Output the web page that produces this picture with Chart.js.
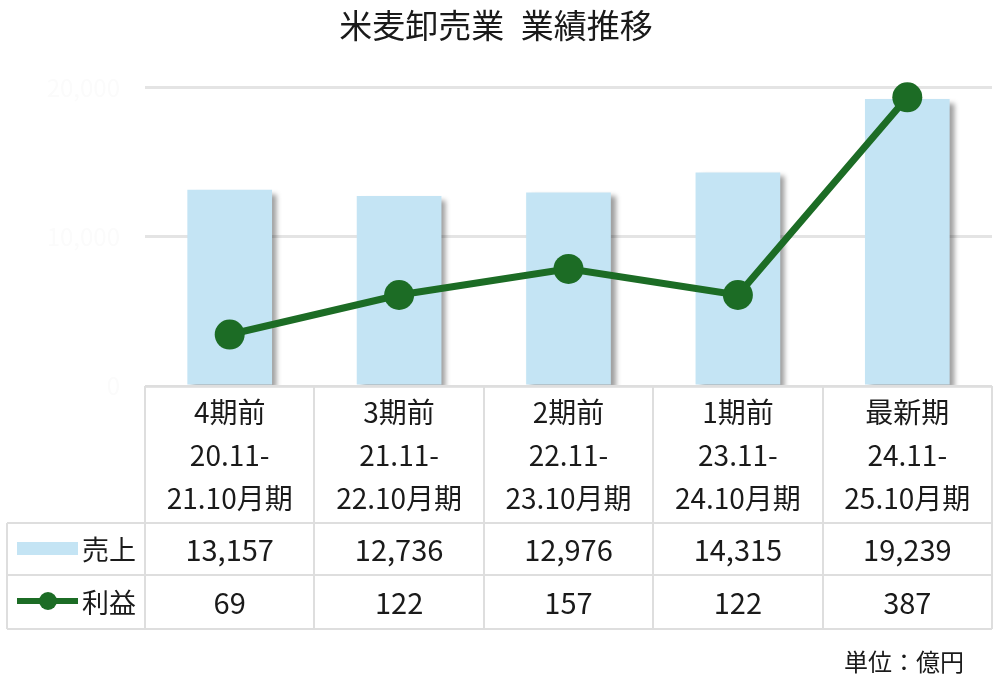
<!DOCTYPE html>
<html lang="ja">
<head>
<meta charset="utf-8">
<title>米麦卸売業　業績推移</title>
<script src="https://cdn.jsdelivr.net/npm/chart.js@4/dist/chart.umd.min.js"></script>
<style>
  html, body { margin: 0; padding: 0; background: #ffffff; }
  #wrap { position: relative; width: 1000px; height: 699px; }
</style>
</head>
<body>
<div id="wrap"><canvas id="c" width="1000" height="699"></canvas></div>
<script>
// 期区分（表の見出し）
const periods = [
  ['4期前', '20.11-', '21.10月期'],
  ['3期前', '21.11-', '22.10月期'],
  ['2期前', '22.11-', '23.10月期'],
  ['1期前', '23.11-', '24.10月期'],
  ['最新期', '24.11-', '25.10月期']
];
// 売上（億円）
const sales = [13157, 12736, 12976, 14315, 19239];
// 利益（億円）
const profit = [69, 122, 157, 122, 387];
// 左軸の目盛
const salesTicks = [0, 10000, 20000];

const FONT = '"Noto Sans CJK JP", "Noto Sans", sans-serif';
const BAR_COLOR = '#c4e4f4';
const LINE_COLOR = '#1c6c25';
const BORDER = '#dedede';
const TEXT = '#1a1a1a';

const fmt = v => v.toLocaleString('en-US');

// 棒グラフに右下方向の影を付ける
const barShadow = {
  id: 'barShadow',
  beforeDatasetDraw(chart, args) {
    if (args.meta.type !== 'bar') return;
    const ctx = chart.ctx;
    ctx.save();
    ctx.shadowColor = 'rgba(0,0,0,0.38)';
    ctx.shadowOffsetX = 5;
    ctx.shadowOffsetY = 4;
    ctx.shadowBlur = 5;
  },
  afterDatasetDraw(chart, args) {
    if (args.meta.type !== 'bar') return;
    chart.ctx.restore();
  }
};

// グラフ下のデータ表（凡例・数値・単位）
const dataTable = {
  id: 'dataTable',
  afterDraw(chart) {
    const ctx = chart.ctx;
    const x = chart.scales.x;
    const area = chart.chartArea;
    const n = periods.length;
    const colW = (area.right - area.left) / n;
    const left = area.left;
    const right = area.right;
    const outerLeft = 7;
    const top = area.bottom;
    const headBottom = x.bottom;
    const row1Bottom = headBottom + 52;
    const row2Bottom = row1Bottom + 54;

    ctx.save();
    ctx.strokeStyle = BORDER;
    ctx.lineWidth = 2;
    ctx.beginPath();
    // 見出し行の枠
    ctx.moveTo(left, top); ctx.lineTo(right, top);
    for (let i = 0; i <= n; i++) {
      const px = i === n ? right : Math.round(x.getPixelForValue(i) - colW / 2);
      ctx.moveTo(px, top); ctx.lineTo(px, row2Bottom);
    }
    // 数値行の横線
    ctx.moveTo(outerLeft, headBottom); ctx.lineTo(right, headBottom);
    ctx.moveTo(outerLeft, row1Bottom); ctx.lineTo(right, row1Bottom);
    ctx.moveTo(outerLeft, row2Bottom); ctx.lineTo(right, row2Bottom);
    ctx.moveTo(outerLeft, headBottom); ctx.lineTo(outerLeft, row2Bottom);
    ctx.stroke();

    // 数値
    ctx.fillStyle = TEXT;
    ctx.font = '29px ' + FONT;
    ctx.textAlign = 'center';
    ctx.textBaseline = 'middle';
    const y1 = (headBottom + row1Bottom) / 2 + 1;
    const y2 = (row1Bottom + row2Bottom) / 2 + 1;
    for (let i = 0; i < n; i++) {
      const cx = x.getPixelForValue(i);
      ctx.fillText(fmt(sales[i]), cx, y1);
      ctx.fillText(fmt(profit[i]), cx, y2);
    }

    // 凡例
    ctx.fillStyle = BAR_COLOR;
    ctx.fillRect(17, y1 - 8, 61, 13);
    ctx.strokeStyle = LINE_COLOR;
    ctx.lineWidth = 6;
    ctx.beginPath();
    ctx.moveTo(17, y2 - 2); ctx.lineTo(78, y2 - 2);
    ctx.stroke();
    ctx.fillStyle = LINE_COLOR;
    ctx.beginPath();
    ctx.arc(48, y2 - 2, 9, 0, Math.PI * 2);
    ctx.fill();

    ctx.fillStyle = TEXT;
    ctx.textAlign = 'left';
    ctx.font = '27px ' + FONT;
    ctx.fillText('売上', 82, y1);
    ctx.fillText('利益', 82, y2);

    // 単位
    ctx.textAlign = 'right';
    ctx.font = '24px ' + FONT;
    ctx.fillText('単位：億円', 964, row2Bottom + 33);
    ctx.restore();
  }
};

new Chart(document.getElementById('c'), {
  data: {
    labels: periods,
    datasets: [
      {
        type: 'line',
        label: '利益',
        data: profit,
        yAxisID: 'y1',
        borderColor: LINE_COLOR,
        backgroundColor: LINE_COLOR,
        borderWidth: 7,
        pointRadius: 15,
        pointHoverRadius: 15,
        pointBackgroundColor: LINE_COLOR,
        pointBorderWidth: 0,
        tension: 0,
        clip: false,
        order: 1
      },
      {
        type: 'bar',
        label: '売上',
        data: sales,
        yAxisID: 'y',
        backgroundColor: BAR_COLOR,
        borderWidth: 0,
        categoryPercentage: 1,
        barPercentage: 0.5,
        order: 2
      }
    ]
  },
  options: {
    responsive: false,
    animation: false,
    devicePixelRatio: 1,
    layout: { autoPadding: false, padding: { top: 6, right: 8, bottom: 176, left: 0 } },
    plugins: {
      legend: { display: false },
      tooltip: { enabled: false },
      title: {
        display: true,
        text: '米麦卸売業\u2002業績推移',
        color: TEXT,
        font: { family: FONT, size: 33, weight: 'normal', lineHeight: 1.2 },
        padding: { top: 0, bottom: 42 }
      }
    },
    scales: {
      x: {
        offset: true,
        grid: { display: false, drawTicks: false },
        border: { display: false },
        ticks: {
          color: TEXT,
          font: { family: FONT, size: 28, lineHeight: '43px' },
          padding: 5,
          maxRotation: 0,
          autoSkip: false
        },
        afterFit(axis) { axis.height = 137; }
      },
      y: {
        position: 'left',
        min: 0,
        max: 20000,
        afterBuildTicks(axis) { axis.ticks = salesTicks.map(v => ({ value: v })); },
        grid: { color: '#e4e4e4', lineWidth: 3, drawTicks: false },
        border: { display: false },
        ticks: {
          color: '#fbfbfb',
          font: { family: FONT, size: 24 },
          padding: 25,
          callback: v => fmt(v)
        },
        afterFit(axis) { axis.width = 145; }
      },
      y1: {
        position: 'right',
        display: false,
        min: 0,
        max: 400,
        grid: { display: false }
      }
    }
  },
  plugins: [barShadow, dataTable]
});
</script>
</body>
</html>
